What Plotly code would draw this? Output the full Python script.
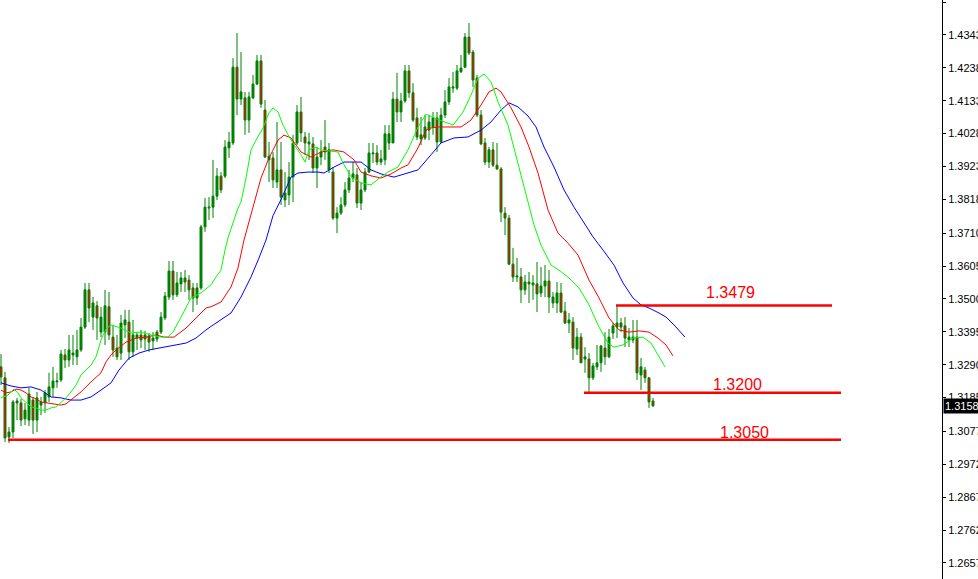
import plotly.graph_objects as go

# ---------------- candle data (bar index 0..163) ----------------
opens = [1.3283,1.3248,1.3059,1.3075,1.3168,1.3168,1.3117,1.3113,1.3177,1.3113,
         1.3161,1.3168,1.3187,1.3216,1.3235,1.3241,1.3321,1.3305,1.3321,1.3315,
         1.3337,1.3410,1.3529,1.3442,1.3478,1.3394,1.3394,1.3475,1.3378,1.3343,
         1.3327,1.3417,1.3426,1.3331,1.3375,1.3385,1.3372,1.3382,1.3366,1.3372,
         1.3394,1.3439,1.3506,1.3589,1.3513,1.3548,1.3567,1.3560,1.3535,1.3503,
         1.3535,1.3730,1.3790,1.3793,1.3828,1.3892,1.3892,1.3982,1.3998,1.4240,
         1.4138,1.4142,1.4071,1.4142,1.4186,1.4260,1.4103,1.3944,1.3950,1.3873,
         1.3912,1.3816,1.3832,1.3889,1.3998,1.4097,1.4017,1.3995,1.3995,1.3918,
         1.3953,1.3985,1.3912,1.3905,1.3758,1.3774,1.3800,1.3848,1.3886,1.3896,
         1.3806,1.3848,1.3905,1.3963,1.3966,1.3937,1.3944,1.3998,1.3998,1.4138,
         1.4097,1.4132,1.4228,1.4158,1.4078,1.4011,1.4014,1.4039,1.4049,1.4078,
         1.4001,1.4087,1.4129,1.4173,1.4173,1.4225,1.4240,1.4336,1.4288,1.4205,
         1.4087,1.3998,1.3937,1.3976,1.3927,1.3915,1.3774,1.3758,1.3611,1.3570,
         1.3570,1.3529,1.3554,1.3545,1.3548,1.3519,1.3541,1.3557,1.3487,1.3487,
         1.3519,1.3461,1.3423,1.3426,1.3340,1.3378,1.3315,1.3308,1.3248,1.3283,
         1.3296,1.3343,1.3315,1.3391,1.3410,1.3423,1.3414,1.3369,1.3369,1.3378,
         1.3257,1.3273,1.3248,1.3174]
highs = [1.3324,1.3267,1.3091,1.3177,1.3184,1.3181,1.3168,1.3216,1.3187,1.3203,
         1.3187,1.3209,1.3264,1.3283,1.3264,1.3337,1.3340,1.3385,1.3385,1.3401,
         1.3439,1.3551,1.3551,1.3506,1.3493,1.3475,1.3529,1.3522,1.3417,1.3385,
         1.3449,1.3465,1.3465,1.3433,1.3394,1.3401,1.3398,1.3391,1.3394,1.3401,
         1.3458,1.3522,1.3621,1.3621,1.3586,1.3586,1.3592,1.3576,1.3551,1.3551,
         1.3736,1.3822,1.3825,1.3944,1.3918,1.3905,1.4007,1.4033,1.4269,1.4349,
         1.4288,1.4161,1.4161,1.4215,1.4279,1.4279,1.4135,1.4001,1.3969,1.4065,
         1.4001,1.3905,1.3937,1.4024,1.4119,1.4145,1.4033,1.4030,1.4017,1.3985,
         1.4007,1.4071,1.3998,1.3921,1.3793,1.3825,1.3873,1.3912,1.3937,1.3918,
         1.3873,1.3918,1.3998,1.3998,1.3991,1.3976,1.4055,1.4055,1.4161,1.4222,
         1.4158,1.4247,1.4247,1.4189,1.4110,1.4081,1.4087,1.4087,1.4097,1.4097,
         1.4110,1.4167,1.4205,1.4225,1.4247,1.4279,1.4349,1.4381,1.4295,1.4215,
         1.4103,1.4014,1.3985,1.4001,1.3998,1.3921,1.3793,1.3768,1.3663,1.3631,
         1.3599,1.3576,1.3586,1.3576,1.3618,1.3602,1.3608,1.3592,1.3522,1.3554,
         1.3551,1.3490,1.3455,1.3442,1.3407,1.3391,1.3346,1.3327,1.3296,1.3353,
         1.3353,1.3394,1.3404,1.3423,1.3479,1.3439,1.3442,1.3407,1.3433,1.3433,
         1.3311,1.3283,1.3251,1.3184]
lows = [1.3225,1.3043,1.3040,1.3056,1.3113,1.3094,1.3097,1.3094,1.3069,1.3075,
        1.3129,1.3136,1.3171,1.3187,1.3216,1.3235,1.3279,1.3283,1.3289,1.3289,
        1.3331,1.3404,1.3426,1.3401,1.3369,1.3378,1.3353,1.3369,1.3315,1.3305,
        1.3305,1.3375,1.3305,1.3315,1.3337,1.3343,1.3337,1.3331,1.3337,1.3362,
        1.3388,1.3433,1.3497,1.3497,1.3506,1.3522,1.3522,1.3497,1.3458,1.3481,
        1.3529,1.3714,1.3752,1.3758,1.3816,1.3838,1.3886,1.3950,1.3991,1.4087,
        1.4119,1.4024,1.4030,1.4138,1.4183,1.4110,1.3950,1.3873,1.3854,1.3854,
        1.3800,1.3793,1.3800,1.3809,1.3991,1.4001,1.3960,1.3944,1.3902,1.3854,
        1.3927,1.3944,1.3902,1.3752,1.3710,1.3768,1.3793,1.3838,1.3873,1.3790,
        1.3784,1.3841,1.3902,1.3934,1.3927,1.3927,1.3927,1.3976,1.3998,1.4065,
        1.4065,1.4126,1.4142,1.4065,1.4007,1.3991,1.4007,1.4007,1.4024,1.3969,
        1.3998,1.4078,1.4119,1.4158,1.4167,1.4222,1.4237,1.4279,1.4177,1.4081,
        1.3991,1.3927,1.3918,1.3921,1.3912,1.3745,1.3704,1.3608,1.3554,1.3554,
        1.3487,1.3513,1.3487,1.3497,1.3458,1.3506,1.3506,1.3455,1.3471,1.3455,
        1.3455,1.3420,1.3391,1.3305,1.3321,1.3296,1.3264,1.3203,1.3241,1.3273,
        1.3267,1.3289,1.3311,1.3372,1.3375,1.3394,1.3346,1.3346,1.3359,1.3241,
        1.3209,1.3232,1.3152,1.3156]
closes = [1.3251,1.3056,1.3075,1.3171,1.3174,1.3113,1.3145,1.3196,1.3113,1.3184,
          1.3171,1.3200,1.3219,1.3238,1.3238,1.3324,1.3305,1.3337,1.3327,1.3337,
          1.3410,1.3529,1.3471,1.3487,1.3439,1.3442,1.3478,1.3385,1.3337,1.3315,
          1.3423,1.3433,1.3331,1.3385,1.3385,1.3369,1.3385,1.3362,1.3375,1.3394,
          1.3442,1.3509,1.3589,1.3513,1.3551,1.3567,1.3554,1.3529,1.3503,1.3535,
          1.3730,1.3793,1.3793,1.3828,1.3892,1.3848,1.3985,1.4001,1.4240,1.4138,
          1.4161,1.4071,1.4145,1.4186,1.4260,1.4122,1.3953,1.3956,1.3880,1.3912,
          1.3825,1.3838,1.3889,1.3998,1.4097,1.4030,1.3998,1.4001,1.3918,1.3953,
          1.3969,1.3969,1.3976,1.3758,1.3774,1.3800,1.3848,1.3886,1.3899,1.3806,
          1.3848,1.3905,1.3966,1.3966,1.3937,1.3947,1.4027,1.4027,1.4138,1.4097,
          1.4132,1.4228,1.4158,1.4071,1.4017,1.4024,1.4049,1.4065,1.4078,1.4001,
          1.4087,1.4129,1.4177,1.4177,1.4228,1.4237,1.4336,1.4285,1.4199,1.4087,
          1.3995,1.3937,1.3976,1.3927,1.3915,1.3777,1.3758,1.3611,1.3570,1.3573,
          1.3529,1.3554,1.3548,1.3551,1.3516,1.3541,1.3557,1.3506,1.3506,1.3519,
          1.3458,1.3423,1.3433,1.3343,1.3378,1.3296,1.3308,1.3248,1.3286,1.3296,
          1.3350,1.3315,1.3378,1.3414,1.3423,1.3410,1.3375,1.3378,1.3378,1.3264,
          1.3283,1.3248,1.3171,1.31583]
bars = list(range(len(closes)))

# ---------------- Alligator lines (bar index, price) ----------------
lips_x = [0,1.75,3.25,4.25,5,6.25,7.5,8.75,10,11.25,12.5,13.75,15,16.25,17.5,18.75,20,21.25,22.5,23.75,
          25,26.25,27.5,30,32.5,34.25,35.75,37.5,40,41.75,43,45,47.5,50,52.5,53.75,55,56,56.75,59.25,
          60,61.25,62.5,63.75,65.5,67,68,69.25,70.5,71.75,73.25,75,76,77,78.75,80,84.25,85.5,87.5,90,
          92.5,95,96.75,99.25,101.75,104.25,106.25,108.25,110.75,113,115.5,117.5,119.25,120.75,122.5,
          124.25,126.75,128.25,130,131.75,133.25,135,137.5,139.5,142,144.5,147,149.5,151.75,153.25,
          155.5,158,160.5,162.5,164.5,166]
lips_y = [1.3184,1.3193,1.3212,1.3200,1.3184,1.3168,1.3155,1.3152,1.3145,1.3145,1.3152,1.3155,1.3168,
          1.3184,1.3203,1.3225,1.3257,1.3273,1.3289,1.3315,1.3369,1.3404,1.3417,1.3407,1.3391,1.3394,
          1.3391,1.3385,1.3378,1.3378,1.3394,1.3442,1.3503,1.3519,1.3545,1.3570,1.3592,1.3656,1.3695,
          1.3790,1.3809,1.3886,1.3976,1.4007,1.4046,1.4094,1.4110,1.4097,1.4055,1.4024,1.3992,1.3960,
          1.3937,1.3976,1.3985,1.3976,1.3969,1.3934,1.3890,1.3870,1.3864,1.3890,1.3905,1.3921,1.3976,
          1.4049,1.4090,1.4078,1.4065,1.4055,1.4097,1.4151,1.4205,1.4218,1.4193,1.4129,1.4055,1.3982,
          1.3896,1.3809,1.3736,1.3672,1.3608,1.3592,1.3567,1.3535,1.3481,1.3410,1.3359,1.3346,1.3353,
          1.3375,1.3378,1.3359,1.3315,1.3283]

teeth_x = [0,1.25,2.5,3.75,5,6.25,7.5,8.75,10,12.5,15,16.25,17.5,20,22.5,25,26.25,27.5,28.75,31.25,
           33.75,36.25,38.75,40.75,43.25,46.25,48.75,51.25,52.5,55,57.5,59.25,60.75,63.25,65,67,69.25,
           70.75,72.5,75,77.5,80,83,85.75,88.25,90,92.5,95,97.5,100,101.75,104.25,106.25,107.5,109.25,
           115,117.5,120,122,123.75,125,127.5,130,132,134.25,136.75,139.25,141.75,144.25,147,149.5,
           152,154.5,157,159.5,162,164.25,166.25,168]
teeth_y = [1.3209,1.3200,1.3203,1.3212,1.3209,1.3200,1.3187,1.3181,1.3171,1.3165,1.3161,1.3165,1.3177,
           1.3203,1.3235,1.3264,1.3299,1.3321,1.3337,1.3362,1.3375,1.3378,1.3385,1.3378,1.3378,1.3407,
           1.3439,1.3471,1.3475,1.3490,1.3538,1.3599,1.3688,1.3800,1.3886,1.3950,1.4007,1.4023,1.4014,
           1.3969,1.3953,1.3969,1.3976,1.3969,1.3944,1.3905,1.3893,1.3886,1.3899,1.3918,1.3928,1.3982,
           1.4039,1.4046,1.4049,1.4049,1.4071,1.4119,1.4161,1.4173,1.4161,1.4110,1.4049,1.3985,1.3902,
           1.3784,1.3710,1.3678,1.3640,1.3560,1.3503,1.3439,1.3401,1.3394,1.3398,1.3394,1.3375,1.3353,
           1.3318]

jaw_x = [0,2.5,5,7.5,10,12.5,15,17.5,20,22.5,25,27.5,29.5,32,34.5,37,40.75,44.25,46.25,48.75,51.25,
         53.75,55.5,57.5,60,62.5,64.5,66.25,68,70,72.5,74.25,76.75,79.25,80.75,83.25,85.75,90,92.5,95,
         98.25,101.75,104.25,107.5,110,113.25,116.75,120,122.5,125,127,129.25,131.75,133.75,135.75,
         138.25,140.75,143.25,145.75,148,150.5,153.25,155.5,158,160,162,164.5,166.25,168.25,171]
jaw_y = [1.3232,1.3222,1.3216,1.3219,1.3209,1.3187,1.3184,1.3177,1.3177,1.3187,1.3209,1.3232,1.3273,
         1.3311,1.3327,1.3337,1.3346,1.3353,1.3359,1.3375,1.3401,1.3423,1.3439,1.3455,1.3506,1.3570,
         1.3631,1.3688,1.3766,1.3817,1.3889,1.3902,1.3905,1.3905,1.3902,1.3921,1.3937,1.3937,1.3912,
         1.3899,1.3889,1.3902,1.3912,1.3960,1.3998,1.4014,1.4017,1.4039,1.4065,1.4103,1.4126,1.4113,
         1.4084,1.4049,1.3985,1.3921,1.3848,1.3793,1.3742,1.3698,1.3656,1.3608,1.3551,1.3503,1.3481,
         1.3471,1.3455,1.3442,1.3417,1.3378]

# ---------------- horizontal levels ----------------
level_values = [1.3479, 1.3200, 1.3050]
level_labels = ["1.3479", "1.3200", "1.3050"]
level_start = [153.75, 145.75, 1.75]
level_end = [207.75, 210.0, 210.0]
label_x = [182.4, 184.1, 185.9]
label_y = [1.3519, 1.3228, 1.3072]

# ---------------- price axis ----------------
tick_vals = [1.4448, 1.4343, 1.4238, 1.4133, 1.4028, 1.3923, 1.3818, 1.3710, 1.3605,
             1.3500, 1.3395, 1.3290, 1.3185, 1.3077, 1.2972, 1.2867, 1.2762, 1.2657]
tick_text = ["1.44480", "1.43430", "1.42380", "1.41330", "1.40280", "1.39230", "1.38180",
             "1.37100", "1.36050", "1.35000", "1.33950", "1.32900", "1.31850", "1.30770",
             "1.29720", "1.28670", "1.27620", "1.26570"]
current_price = 1.31583
y_range = [1.26057, 1.44544]
x_range = [-0.25, 235.25]

fig = go.Figure()
fig.add_trace(go.Candlestick(
    x=bars, open=opens, high=highs, low=lows, close=closes,
    increasing=dict(line=dict(color="#008000", width=1), fillcolor="#008000"),
    decreasing=dict(line=dict(color="#008000", width=1), fillcolor="#FF0000"),
    whiskerwidth=0, hoverinfo="skip"))

for xs, ys, col in [(jaw_x, jaw_y, "#0000FF"), (teeth_x, teeth_y, "#FF0000"), (lips_x, lips_y, "#00FF00")]:
    fig.add_trace(go.Scatter(x=xs, y=ys, mode="lines", line=dict(color=col, width=1),
                             hoverinfo="skip"))

for v, s, e in zip(level_values, level_start, level_end):
    fig.add_trace(go.Scatter(x=[s, e], y=[v, v], mode="lines",
                             line=dict(color="#FF0000", width=2.5), hoverinfo="skip"))

for t, lx, ly in zip(level_labels, label_x, label_y):
    fig.add_annotation(x=lx, y=ly, text=t, showarrow=False, xanchor="center", yanchor="middle",
                       font=dict(family="Liberation Sans, Arial", size=16, color="#FF0000"))

fig.add_annotation(x=1, xref="paper", y=current_price, yref="y", text="1.31583",
                   showarrow=False, xanchor="left", yanchor="middle", align="left",
                   bgcolor="#000000", borderpad=1, xshift=1,
                   font=dict(family="Liberation Sans, Arial", size=11, color="#FFFFFF"))

fig.update_layout(
    width=978, height=579,
    margin=dict(l=0, r=36, t=0, b=0, autoexpand=False),
    paper_bgcolor="white", plot_bgcolor="white",
    showlegend=False,
    xaxis=dict(range=x_range, visible=False, rangeslider=dict(visible=False), fixedrange=True,
               automargin=False),
    yaxis=dict(range=y_range, side="right", showgrid=False, zeroline=False, automargin=False,
               showline=True, linecolor="black", linewidth=1,
               ticks="outside", ticklen=3, tickcolor="black",
               tickvals=tick_vals, ticktext=tick_text,
               tickfont=dict(family="Liberation Sans, Arial", size=11, color="black")),
)

fig.write_html("out.html", config={"displayModeBar": False},
               post_script="document.body.style.margin='0';document.body.style.padding='0';"
                           "document.body.style.overflow='hidden';")
